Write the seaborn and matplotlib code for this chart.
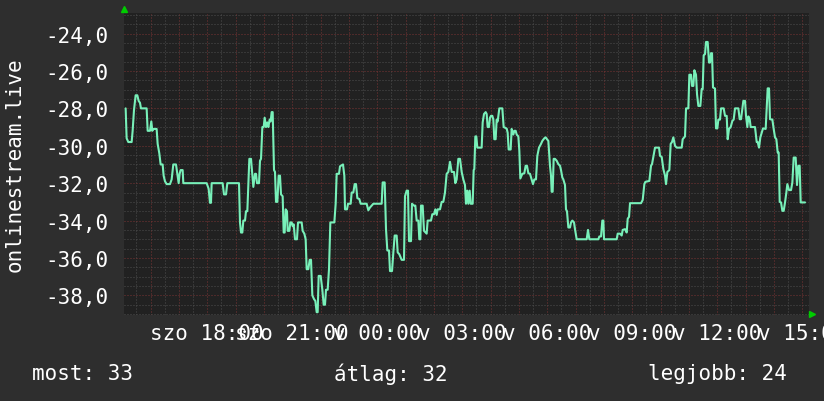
import numpy as np
import pandas as pd
import matplotlib
matplotlib.use('Agg')
import matplotlib.pyplot as plt
import matplotlib.ticker as mticker
import seaborn as sns

# hours since saturday 00:00, value shown on the graph
hours = [15.118, 15.153, 15.212, 15.330, 15.365, 15.412, 15.471, 15.530, 15.577, 15.624,
         15.659, 15.859, 15.895, 15.977, 16.024, 16.059, 16.095, 16.212, 16.248, 16.306,
         16.353, 16.424, 16.459, 16.506, 16.565, 16.683, 16.742, 16.800, 16.895, 16.942,
         16.989, 17.024, 17.059, 17.130, 17.154, 17.977, 18.048, 18.095, 18.130, 18.154,
         18.542, 18.589, 18.660, 18.707, 19.119, 19.154, 19.190, 19.237, 19.272, 19.331,
         19.366, 19.413, 19.449, 19.484, 19.543, 19.590, 19.625, 19.684, 19.719, 19.755,
         19.825, 19.860, 19.896, 19.943, 19.990, 20.025, 20.072, 20.119, 20.155, 20.202,
         20.237, 20.272, 20.308, 20.355, 20.390, 20.425, 20.472, 20.519, 20.566, 20.602,
         20.660, 20.696, 20.731, 20.766, 20.813, 20.837, 20.896, 20.931, 20.978, 21.014,
         21.049, 21.096, 21.166, 21.202, 21.331, 21.366, 21.425, 21.472, 21.508, 21.566,
         21.614, 21.661, 21.708, 21.767, 21.814, 21.861, 21.896, 21.931, 22.002, 22.061,
         22.108, 22.155, 22.190, 22.249, 22.296, 22.343, 22.484, 22.531, 22.567, 22.649,
         22.684, 22.790, 22.837, 22.861, 22.931, 22.967, 23.061, 23.096, 23.155, 23.202,
         23.249, 23.296, 23.366, 23.414, 23.625, 23.684, 23.743, 23.802, 23.861, 24.155,
         24.190, 24.261, 24.308, 24.355, 24.414, 24.449, 24.520, 24.567, 24.614, 24.684,
         24.720, 24.778, 24.861, 24.943, 24.978, 25.037, 25.084, 25.120, 25.190, 25.225,
         25.296, 25.343, 25.390, 25.449, 25.484, 25.520, 25.543, 25.602, 25.649, 25.743,
         25.778, 25.896, 25.943, 26.002, 26.049, 26.096, 26.131, 26.214, 26.273, 26.331,
         26.390, 26.449, 26.508, 26.567, 26.626, 26.708, 26.755, 26.802, 26.861, 26.920,
         26.979, 27.037, 27.096, 27.131, 27.178, 27.214, 27.261, 27.296, 27.367, 27.402,
         27.425, 27.461, 27.496, 27.531, 27.684, 27.720, 27.767, 27.826, 27.861, 27.896,
         27.943, 27.978, 28.014, 28.061, 28.096, 28.131, 28.178, 28.214, 28.249, 28.308,
         28.414, 28.461, 28.567, 28.602, 28.637, 28.708, 28.743, 28.802, 28.837, 28.884,
         28.920, 28.979, 29.014, 29.049, 29.120, 29.190, 29.237, 29.284, 29.332, 29.390,
         29.449, 29.496, 29.543, 29.602, 29.649, 29.708, 29.779, 29.826, 29.896, 29.943,
         29.990, 30.038, 30.096, 30.132, 30.155, 30.190, 30.226, 30.273, 30.332, 30.390,
         30.449, 30.485, 30.532, 30.567, 30.626, 30.661, 30.696, 30.744, 30.802, 30.838,
         30.885, 30.944, 30.979, 31.038, 31.391, 31.438, 31.485, 31.803, 31.838, 31.897,
         31.944, 31.980, 32.003, 32.450, 32.486, 32.568, 32.627, 32.662, 32.744, 32.803,
         32.839, 32.886, 32.921, 33.309, 33.368, 33.427, 33.462, 33.603, 33.662, 33.698,
         33.745, 33.803, 33.945, 33.980, 34.039, 34.098, 34.156, 34.192, 34.239, 34.309,
         34.356, 34.403, 34.450, 34.509, 34.568, 34.745, 34.780, 34.862, 34.898, 34.980,
         35.015, 35.074, 35.109, 35.156, 35.192, 35.250, 35.286, 35.333, 35.403, 35.450,
         35.486, 35.521, 35.568, 35.603, 35.662, 35.709, 35.744, 35.780, 35.815, 35.850,
         35.921, 35.956, 36.003, 36.039, 36.097, 36.133, 36.227, 36.274, 36.333, 36.368,
         36.415, 36.474, 36.533, 36.580, 36.627, 36.745, 36.792, 36.839, 36.886, 36.921,
         36.980, 37.015, 37.062, 37.098, 37.145, 37.180, 37.333, 37.392, 37.427, 37.474,
         37.521, 37.568, 37.615, 37.709, 37.745, 37.780, 37.827, 37.862, 37.945, 37.992,
         38.039, 38.086, 38.133, 38.168, 38.204, 38.251, 38.298, 38.345, 38.392, 38.439,
         38.474, 38.533, 38.604, 38.651, 38.698, 38.768, 38.815, 38.862, 38.909, 38.945,
         39.098]

values = [-28.0, -29.6, -29.8, -29.8, -29.2, -28.1, -27.3, -27.3, -27.6, -27.7,
          -28.0, -28.0, -29.2, -29.2, -28.7, -29.2, -29.1, -29.1, -29.9, -30.4,
          -31.0, -31.0, -31.6, -31.9, -32.05, -32.05, -31.8, -31.0, -31.0, -31.5,
          -32.0, -31.5, -31.3, -31.3, -32.0, -32.0, -32.3, -33.05, -33.05, -32.0,
          -32.0, -32.6, -32.6, -32.0, -32.0, -34.1, -34.64, -34.64, -34.0, -34.0,
          -33.5, -33.5, -32.1, -30.7, -30.7, -31.6, -32.2, -31.5, -31.5, -32.0,
          -32.0, -30.8, -30.7, -29.0, -29.0, -28.5, -29.0, -28.75, -29.0, -28.6,
          -28.7, -28.2, -28.2, -31.3, -31.4, -33.0, -33.0, -31.6, -31.6, -32.6,
          -32.7, -34.64, -34.64, -33.4, -33.5, -34.55, -34.55, -34.1, -34.1, -34.3,
          -34.2, -35.0, -35.0, -34.1, -34.1, -34.55, -34.7, -35.0, -36.6, -36.6,
          -36.1, -36.1, -38.0, -38.2, -38.3, -38.9, -38.9, -36.96, -36.96, -37.7,
          -38.5, -38.5, -37.7, -37.7, -36.6, -34.1, -34.1, -33.1, -31.5, -31.5,
          -31.1, -31.0, -31.6, -33.4, -33.4, -33.1, -33.1, -32.5, -32.5, -32.05,
          -32.05, -32.8, -32.85, -33.1, -33.1, -33.45, -33.3, -33.2, -33.1, -33.1,
          -31.96, -31.96, -34.46, -35.6, -35.6, -36.7, -36.7, -35.7, -34.8, -34.8,
          -35.7, -35.8, -36.1, -36.1, -32.7, -32.4, -32.4, -35.1, -35.1, -33.1,
          -33.2, -33.2, -34.0, -34.0, -35.0, -35.0, -33.2, -33.2, -34.55, -34.7,
          -34.0, -34.0, -33.66, -33.66, -33.4, -33.7, -33.4, -33.4, -33.0, -33.0,
          -32.5, -31.5, -31.4, -30.86, -31.4, -31.4, -32.0, -31.8, -30.7, -30.7,
          -31.4, -31.8, -32.1, -33.1, -32.4, -33.1, -32.4, -33.1, -33.1, -31.3,
          -31.25, -29.5, -29.5, -30.1, -30.1, -28.75, -28.3, -28.2, -28.3, -29.0,
          -29.0, -28.5, -28.4, -28.4, -28.6, -29.65, -29.65, -28.6, -28.7, -28.0,
          -28.0, -29.0, -29.08, -29.3, -30.2, -30.2, -29.1, -29.4, -29.2, -29.2,
          -29.4, -29.5, -30.27, -31.75, -31.5, -31.47, -31.07, -31.07, -31.47, -31.5,
          -31.8, -32.05, -31.8, -31.8, -30.54, -30.1, -29.9, -29.74, -29.6, -29.55,
          -29.65, -29.74, -31.07, -31.6, -32.46, -32.46, -30.7, -30.7, -30.8, -30.98,
          -31.07, -31.3, -31.7, -31.8, -32.1, -33.4, -33.5, -34.37, -34.37, -34.1,
          -34.0, -34.1, -34.46, -35.0, -35.0, -34.5, -35.0, -35.0, -34.85, -34.85,
          -34.0, -34.0, -35.0, -35.0, -34.7, -34.7, -34.8, -34.5, -34.46, -34.64,
          -33.9, -33.8, -33.07, -33.07, -32.9, -32.05, -31.93, -31.88, -31.07, -30.98,
          -30.6, -30.1, -30.1, -30.54, -30.6, -31.25, -31.6, -32.05, -31.4, -31.3,
          -29.9, -29.8, -29.55, -30.0, -30.1, -30.1, -29.65, -29.5, -28.0, -28.0,
          -26.2, -26.2, -26.8, -26.8, -25.96, -26.2, -27.24, -27.87, -27.87, -26.97,
          -26.97, -25.16, -25.1, -24.45, -24.45, -25.55, -25.55, -25.05, -25.05, -26.88,
          -26.94, -29.07, -29.07, -28.6, -28.6, -28.0, -28.0, -28.4, -28.4, -29.65,
          -29.1, -29.0, -28.67, -28.6, -28.0, -28.0, -28.58, -28.58, -28.0, -27.6,
          -27.6, -28.4, -29.0, -28.43, -28.58, -29.0, -29.0, -29.8, -29.8, -30.1,
          -29.55, -29.3, -29.07, -29.1, -28.0, -26.93, -26.93, -28.58, -28.6, -29.1,
          -29.55, -29.65, -30.36, -30.36, -33.0, -33.03, -33.48, -33.48, -33.03, -32.5,
          -32.05, -32.37, -32.37, -31.96, -30.63, -30.63, -32.1, -31.07, -31.07, -33.03,
          -33.03]

tick_hours = [18, 21, 24, 27, 30, 33, 36, 39]
tick_labels = ['szo 18:00', 'szo 21:00', 'v 00:00', 'v 03:00',
               'v 06:00', 'v 09:00', 'v 12:00', 'v 15:00']
stat_names = ['most', 'átlag', 'legjobb']
stat_values = [33, 32, 24]

df = pd.DataFrame({'hour': hours, 'value': values})

sns.set_theme(style='dark', rc={
    'figure.facecolor': '#2e2e2e',
    'axes.facecolor': '#212121',
    'text.color': 'white',
    'xtick.color': 'white',
    'ytick.color': 'white',
})
plt.rcParams['font.family'] = ['DejaVu Sans Mono', 'DejaVu Sans']

fig = plt.figure(figsize=(8.24, 4.02), dpi=100)
ax = fig.add_axes([124 / 824, 1 - 316 / 402, 685.5 / 824, 302 / 402])

sns.lineplot(x='hour', y='value', data=df, ax=ax, color='#78f0b9',
             linewidth=1.5, estimator=None, sort=False, zorder=3)

ax.set_xlim(15.06, 39.256)
ax.set_ylim(-39.05, -22.9)

label_map = dict(zip(tick_hours, tick_labels))
ax.xaxis.set_major_locator(mticker.MultipleLocator(1))
ax.xaxis.set_minor_locator(mticker.MultipleLocator(0.5))
ax.xaxis.set_major_formatter(mticker.FuncFormatter(
    lambda v, p: label_map.get(int(round(v)), '') if abs(v - round(v)) < 1e-6 else ''))
ax.yaxis.set_major_locator(mticker.MultipleLocator(2))
ax.yaxis.set_minor_locator(mticker.MultipleLocator(0.5))
ax.yaxis.set_major_formatter(mticker.FuncFormatter(lambda v, p: f'{v:.1f}'.replace('.', ',')))

ax.grid(True, which='minor', color='#4e4e4e', linewidth=0.72, linestyle=(0, (1, 2)))
ax.grid(True, which='major', color='#7a3434', linewidth=0.72, linestyle=(0, (1, 2)))
ax.set_axisbelow(True)

ax.tick_params(axis='both', which='both', length=0, labelsize=15)
ax.tick_params(axis='x', pad=6)
ax.tick_params(axis='y', pad=11.5)
for s in ax.spines.values():
    s.set_visible(False)
ax.set_xlabel('')
ax.set_ylabel('')

# rrdtool style arrows at the axis ends
ax.plot([0.0007], [1.013], marker='^', markersize=5, color='#00cc00',
        transform=ax.transAxes, clip_on=False, linestyle='none')
ax.plot([1.0036], [0.003], marker='>', markersize=5, color='#00cc00',
        transform=ax.transAxes, clip_on=False, linestyle='none')

fig.text(14.5 / 824, 1 - 165 / 402, 'onlinestream.live', rotation=90,
         ha='center', va='center', fontsize=15, color='white')

stat_x = [32, 334, 648]
for x, name, val in zip(stat_x, stat_names, stat_values):
    fig.text(x / 824, 1 - 374 / 402, f'{name}: {val}', ha='left', va='center',
             fontsize=15, color='white')

fig.savefig('out.png', dpi=100, facecolor=fig.get_facecolor())
